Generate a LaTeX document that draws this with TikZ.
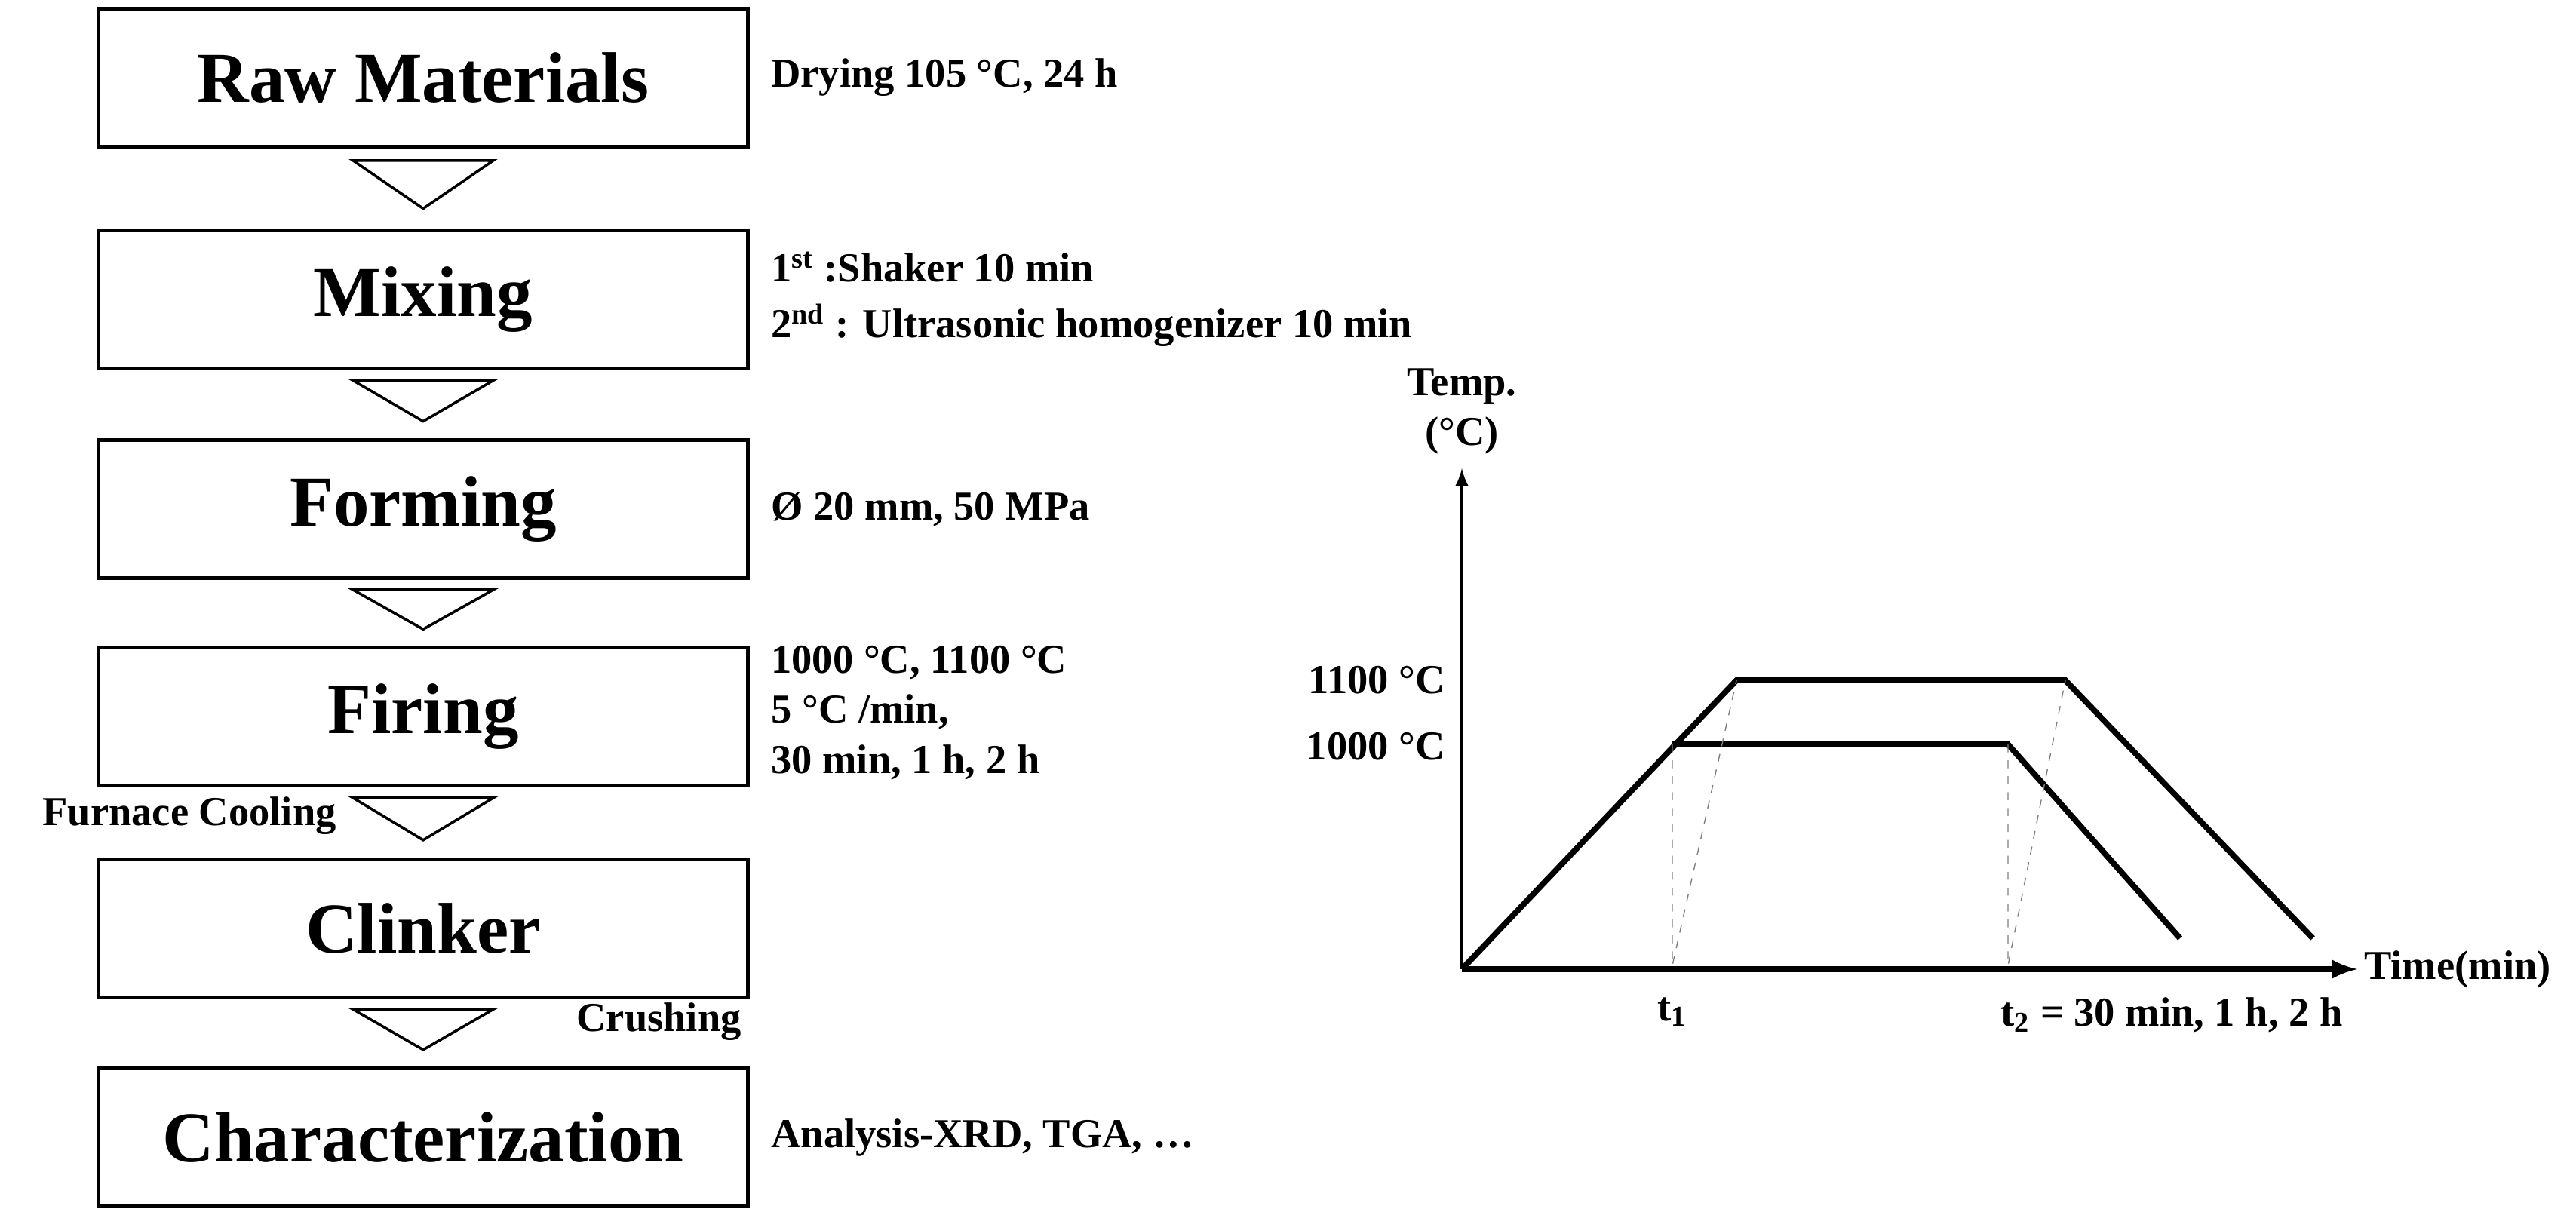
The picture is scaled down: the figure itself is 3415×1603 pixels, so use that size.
\documentclass[tikz,border=0pt]{standalone}
\usepackage{fontspec}
\setmainfont{Liberation Serif}
\begin{document}
\begin{tikzpicture}[x=0.01cm,y=-0.01cm,font=\bfseries,
  stepbox/.style={draw,line width=1.3pt,minimum width=8.6cm,minimum height=1.83cm,font=\fontsize{27}{30}\selectfont\bfseries},
  ann/.style={anchor=west,font=\fontsize{15.5}{19}\selectfont\bfseries,align=left},
  tri/.style={draw,line width=1pt},
  curve/.style={line width=2.2pt},
  guide/.style={dashed,line width=0.4pt,gray}]
\useasboundingbox (0,0) rectangle (3415,1603);
\node[stepbox] (s1) at (561,103) {Raw Materials};
\node[stepbox] (s2) at (561,397) {Mixing};
\node[stepbox] (s3) at (561,675) {Forming};
\node[stepbox] (s4) at (561,950) {Firing};
\node[stepbox] (s5) at (561,1231) {Clinker};
\node[stepbox] (s6) at (561,1508) {Characterization};
\foreach \a/\b in {s1/s2,s2/s3,s3/s4,s4/s5,s5/s6}{
  \path (\a.south) -- (\b.north) coordinate[pos=0.15] (m\a) coordinate[pos=0.75] (t\a);
  \draw[tri] ([xshift=-0.93cm]m\a) -- ([xshift=0.93cm]m\a) -- (t\a) -- cycle;
}
\node[ann] (a1) at (1010,103) {Drying 105 °C, 24 h};
\node[ann] (a2) at (1010,397) {1\textsuperscript{st} :Shaker 10 min\\[2pt]2\textsuperscript{nd} : Ultrasonic homogenizer 10 min};
\node[ann] (a3) at (1010,675) {Ø 20 mm, 50 MPa};
\node[ann] (a4) at (1010,945) {1000 °C, 1100 °C\\5 °C /min,\\30 min, 1 h, 2 h};
\node[ann,anchor=east] (a5) at (458,1082) {Furnace Cooling};
\node[ann,anchor=east] (a6) at (995,1355) {Crushing};
\node[ann] (a7) at (1010,1508) {Analysis-XRD, TGA, …};
% graph
\coordinate (O) at (1938,1285);
\coordinate (Ytop) at (1938,621);
\coordinate (Xend) at (3125,1285);
\draw[line width=1.3pt,-latex] (O) -- (Ytop);
\draw[curve,-latex] (O) -- (Xend);
\node[ann,anchor=south,align=center] (yl) at (1938,615) {Temp.\\(°C)};
\node[ann] (xl) at (3122,1285) {Time(min)};
\coordinate (A1) at (2217,987);
\coordinate (B1) at (2662,987);
\coordinate (C1) at (2890,1244);
\coordinate (A2) at (2302,902);
\coordinate (B2) at (2738,902);
\coordinate (C2) at (3066,1244);
\draw[curve] (O) -- (A2) -- (B2) -- (C2);
\draw[curve] (A1) -- (B1) -- (C1);
\coordinate (T1) at (2217,1280);
\coordinate (T2) at (2662,1280);
\draw[guide] (A1) -- (T1) -- (A2);
\draw[guide] (B1) -- (T2) -- (B2);
\node[ann,anchor=east] (l1) at (1928,902) {1100 °C};
\node[ann,anchor=east] (l2) at (1928,990) {1000 °C};
\node[ann,anchor=north] (tt1) at (2217,1310) {t\textsubscript{1}};
\node[ann,anchor=north west] (tt2) at (2640,1310) {t\textsubscript{2} = 30 min, 1 h, 2 h};
\end{tikzpicture}
\end{document}
